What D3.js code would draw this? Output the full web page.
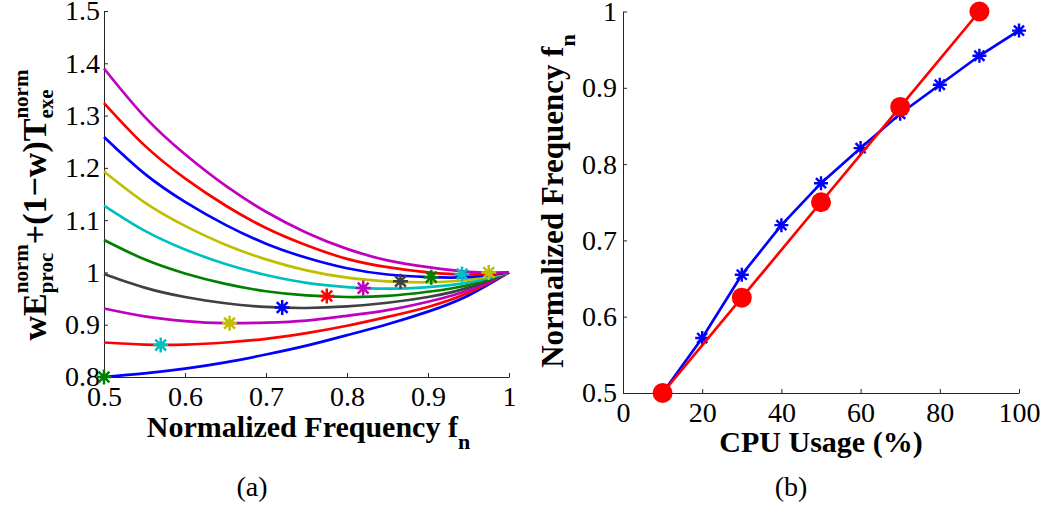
<!DOCTYPE html>
<html>
<head>
<meta charset="utf-8">
<script src="https://cdn.jsdelivr.net/npm/d3@7"></script>
<style>
  body { margin: 0; background: #fff; }
  svg { display: block; }
</style>
</head>
<body>
<svg id="chart" width="1064" height="508"></svg>
<script>
// ---------- panel (a): weighted cost vs normalized frequency ----------
const freqGrid = [0.5, 0.55, 0.6, 0.65, 0.7, 0.75, 0.8, 0.85, 0.9, 0.95, 1.0];

// one row per weight, bottom curve first
const costCurves = [
  [0.800, 0.807, 0.816, 0.828, 0.843, 0.860, 0.880, 0.901, 0.925, 0.956, 1.000],
  [0.866, 0.862, 0.862, 0.866, 0.873, 0.884, 0.898, 0.915, 0.934, 0.961, 1.000],
  [0.931, 0.916, 0.907, 0.903, 0.904, 0.908, 0.917, 0.928, 0.944, 0.966, 1.000],
  [0.997, 0.971, 0.953, 0.941, 0.934, 0.932, 0.935, 0.942, 0.953, 0.971, 1.000],
  [1.062, 1.025, 0.998, 0.978, 0.964, 0.956, 0.953, 0.955, 0.963, 0.976, 1.000],
  [1.128, 1.080, 1.044, 1.016, 0.995, 0.980, 0.972, 0.969, 0.972, 0.981, 1.000],
  [1.193, 1.134, 1.089, 1.053, 1.025, 1.004, 0.990, 0.983, 0.981, 0.986, 1.000],
  [1.259, 1.189, 1.135, 1.091, 1.055, 1.028, 1.008, 0.996, 0.991, 0.991, 1.000],
  [1.324, 1.243, 1.180, 1.128, 1.085, 1.052, 1.026, 1.010, 1.000, 0.996, 1.000],
  [1.390, 1.298, 1.226, 1.166, 1.116, 1.076, 1.045, 1.023, 1.010, 1.001, 1.000]
];
const curveColors = ["#0000ff", "#ff0000", "#bf00bf", "#404040", "#008000",
                     "#00bfbf", "#bfbf00", "#0000ff", "#ff0000", "#bf00bf"];

// optimum point marked on each curve
const optFreq = [0.5, 0.57, 0.655, 0.72, 0.775, 0.82, 0.866, 0.904, 0.942, 0.975];
const optCost = [0.800, 0.861, 0.903, 0.933, 0.955, 0.970, 0.983, 0.991, 0.997, 1.000];
const optColors = ["#008000", "#00bfbf", "#bfbf00", "#0000ff", "#ff0000",
                   "#bf00bf", "#404040", "#008000", "#00bfbf", "#bfbf00"];

const aXTicks = [0.5, 0.6, 0.7, 0.8, 0.9, 1];
const aYTicks = [0.8, 0.9, 1, 1.1, 1.2, 1.3, 1.4, 1.5];

// ---------- panel (b): selected frequency vs CPU usage ----------
const cpuUsage = [10, 20, 30, 40, 50, 60, 70, 80, 90, 100];
const freqOptimal = [0.5, 0.572, 0.655, 0.72, 0.775, 0.821, 0.866, 0.904, 0.942, 0.975];
const cpuLevels = [10, 30, 50, 70, 90];
const freqLevels = [0.5, 0.625, 0.75, 0.875, 1.0];

const bXTicks = [0, 20, 40, 60, 80, 100];
const bYTicks = [0.5, 0.6, 0.7, 0.8, 0.9, 1];

// ---------- drawing ----------
const FONT = "'Liberation Serif', 'Times New Roman', serif";
const TICK_SIZE = 28;
const svg = d3.select("#chart");
svg.append("rect").attr("width", 1064).attr("height", 508).attr("fill", "#fff");

const fmt = d3.format("~g");

function measure(str, size, weight) {
  const t = svg.append("text")
    .attr("font-family", FONT).attr("font-size", size).attr("font-weight", weight)
    .text(str);
  const w = t.node().getComputedTextLength();
  t.remove();
  return w;
}

// lays out a bold label made of plain runs and stacked super/subscripts
function richLabel(parent, runs, size, scriptSize, supShift, subShift) {
  const g = parent.append("g")
    .attr("font-family", FONT).attr("font-weight", "bold").attr("fill", "#000");
  let x = 0;
  runs.forEach(r => {
    if (r.text !== undefined) {
      g.append("text").attr("x", x).attr("y", 0).attr("font-size", size).text(r.text);
      x += measure(r.text, size, "bold");
    } else {
      let w = 0;
      if (r.sup) {
        g.append("text").attr("x", x).attr("y", -supShift).attr("font-size", scriptSize).text(r.sup);
        w = Math.max(w, measure(r.sup, scriptSize, "bold"));
      }
      if (r.sub) {
        g.append("text").attr("x", x).attr("y", subShift).attr("font-size", scriptSize).text(r.sub);
        w = Math.max(w, measure(r.sub, scriptSize, "bold"));
      }
      x += w;
    }
  });
  return { g, width: x };
}

// eight-armed asterisk marker
function starPath(r) {
  const d = r * 0.72;
  return `M${-r},0H${r}M0,${-r}V${r}M${-d},${-d}L${d},${d}M${-d},${d}L${d},${-d}`;
}

function styleAxis(g) {
  g.select(".domain").attr("stroke", "#262626").attr("stroke-width", 1);
  g.selectAll(".tick line").attr("stroke", "#262626");
  g.selectAll(".tick text").attr("font-family", FONT).attr("font-size", TICK_SIZE).attr("fill", "#000");
}

// ===== panel (a) =====
const ax = d3.scaleLinear().domain([0.5, 1]).range([104, 509]);
const ay = d3.scaleLinear().domain([0.8, 1.5]).range([377, 11]);

const gA = svg.append("g");

gA.append("g").attr("transform", `translate(0,${ay(0.8)})`)
  .call(d3.axisBottom(ax).tickValues(aXTicks).tickFormat(fmt)
        .tickSizeInner(-4).tickSizeOuter(0).tickPadding(9))
  .call(styleAxis);

gA.append("g").attr("transform", `translate(${ax(0.5)},0)`)
  .call(d3.axisLeft(ay).tickValues(aYTicks).tickFormat(fmt)
        .tickSizeInner(-4).tickSizeOuter(0).tickPadding(4))
  .call(styleAxis);

const lineA = d3.line()
  .x((d, i) => ax(freqGrid[i]))
  .y(d => ay(d))
  .curve(d3.curveNatural);

gA.append("g").selectAll("path").data(costCurves).join("path")
  .attr("d", lineA)
  .attr("fill", "none")
  .attr("stroke", (d, i) => curveColors[i])
  .attr("stroke-width", 2.7);

gA.append("g").selectAll("path").data(optFreq).join("path")
  .attr("transform", (d, i) => `translate(${ax(d)},${ay(optCost[i])})`)
  .attr("d", starPath(7.5))
  .attr("fill", "none")
  .attr("stroke", (d, i) => optColors[i])
  .attr("stroke-width", 2.5);

// axis titles (a)
{
  const lab = richLabel(gA, [{ text: "Normalized Frequency f" }, { sub: "n" }], 30, 22, 0, 12);
  lab.g.attr("transform", `translate(${(ax(0.5) + ax(1)) / 2 - lab.width / 2 + 2},437)`);
}
{
  const lab = richLabel(gA, [
    { text: "wE" }, { sup: "norm", sub: "proc" },
    { text: "+(1\u2212w)T" }, { sup: "norm", sub: "exe" }
  ], 34, 21, 18, 7);
  lab.g.attr("transform", `translate(46,${205}) rotate(-90) translate(${-lab.width / 2},0)`);
}
svg.append("text").attr("x", 252).attr("y", 496).attr("text-anchor", "middle")
  .attr("font-family", FONT).attr("font-size", 28).text("(a)");

// ===== panel (b) =====
const bx = d3.scaleLinear().domain([0, 100]).range([623, 1019]);
const by = d3.scaleLinear().domain([0.5, 1]).range([393, 11.5]);

const gB = svg.append("g");

gB.append("g").attr("transform", `translate(0,${by(0.5)})`)
  .call(d3.axisBottom(bx).tickValues(bXTicks).tickFormat(fmt)
        .tickSizeInner(-4).tickSizeOuter(0).tickPadding(9))
  .call(styleAxis);

gB.append("g").attr("transform", `translate(${bx(0)},0)`)
  .call(d3.axisLeft(by).tickValues(bYTicks).tickFormat(fmt)
        .tickSizeInner(-4).tickSizeOuter(0).tickPadding(6))
  .call(styleAxis);

const lineB = d3.line().x(d => bx(d[0])).y(d => by(d[1]));

const starData = cpuUsage.map((c, i) => [c, freqOptimal[i]]);
const levelData = cpuLevels.map((c, i) => [c, freqLevels[i]]);

gB.append("path").datum(starData)
  .attr("d", lineB).attr("fill", "none")
  .attr("stroke", "#0000ff").attr("stroke-width", 2.7);
gB.append("g").selectAll("path").data(starData).join("path")
  .attr("transform", d => `translate(${bx(d[0])},${by(d[1])})`)
  .attr("d", starPath(7))
  .attr("fill", "none").attr("stroke", "#0000ff").attr("stroke-width", 2.4);

gB.append("path").datum(levelData)
  .attr("d", lineB).attr("fill", "none")
  .attr("stroke", "#ff0000").attr("stroke-width", 2.7);
gB.append("g").selectAll("circle").data(levelData).join("circle")
  .attr("cx", d => bx(d[0])).attr("cy", d => by(d[1]))
  .attr("r", 10).attr("fill", "#ff0000");

{
  const lab = richLabel(gB, [{ text: "CPU Usage (%)" }], 30, 22, 0, 0);
  lab.g.attr("transform", `translate(${(bx(0) + bx(100)) / 2 - lab.width / 2},452)`);
}
{
  const lab = richLabel(gB, [{ text: "Normalized Frequency f" }, { sub: "n" }], 31, 22, 0, 12);
  lab.g.attr("transform", `translate(563,${201}) rotate(-90) translate(${-lab.width / 2},0)`);
}
svg.append("text").attr("x", 791).attr("y", 496).attr("text-anchor", "middle")
  .attr("font-family", FONT).attr("font-size", 28).text("(b)");
</script>
</body>
</html>
